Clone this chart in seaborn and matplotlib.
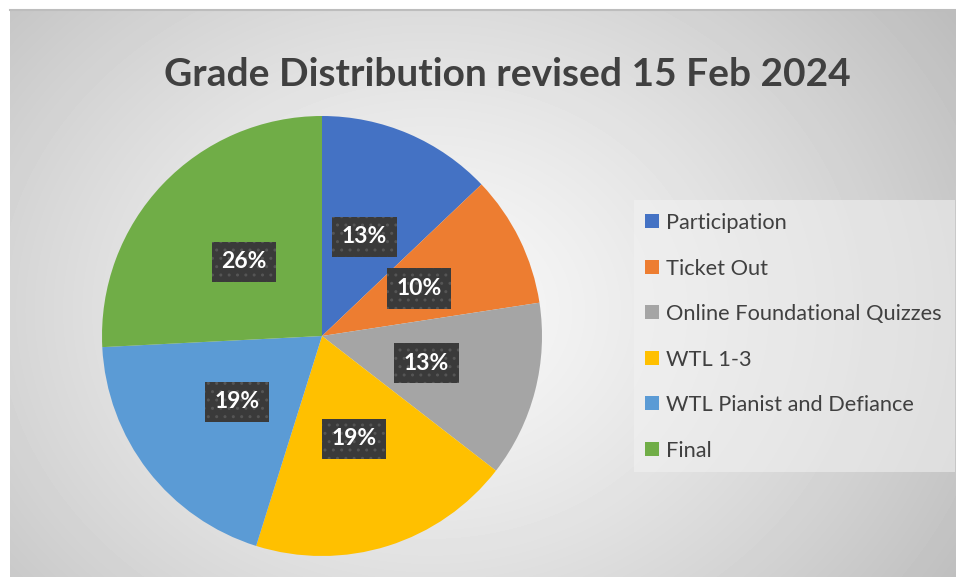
import numpy as np
import matplotlib
matplotlib.use('Agg')
import matplotlib.pyplot as plt
import seaborn as sns
from matplotlib.patches import Rectangle, Patch

# ---- data ----
categories = ['Participation', 'Ticket Out', 'Online Foundational Quizzes',
              'WTL 1-3', 'WTL Pianist and Defiance', 'Final']
weights = [200, 150, 200, 300, 300, 400]
colors = ['#4472C4', '#ED7D31', '#A5A5A5', '#FFC000', '#5B9BD5', '#70AD47']
title = 'Grade Distribution revised 15 Feb 2024'

sns.set_theme(style='white')
plt.rcParams['font.family'] = ['Lato', 'DejaVu Sans']

W, H = 956, 579
fig = plt.figure(figsize=(W / 100, H / 100), dpi=100, facecolor='white')

# ---- radial gradient background ----
bg = fig.add_axes([10 / W, 2 / H, 946 / W, 567 / H], zorder=0)
yy, xx = np.mgrid[0:567, 0:946]
cx, cy = 420, 300
d = np.sqrt(((xx - cx) / 560.0) ** 2 + ((yy - cy) / 460.0) ** 2)
shade = np.clip(0.975 - 0.20 * d ** 1.3, 0.74, 1.0)
bg.imshow(shade, cmap='gray', vmin=0, vmax=1, aspect='auto', interpolation='bilinear')
bg.set_xticks([])
bg.set_yticks([])
for s in ['left', 'right', 'bottom']:
    bg.spines[s].set_visible(False)
bg.spines['top'].set_color('#bdbdbd')
bg.spines['top'].set_linewidth(1.5)

# ---- pie ----
ax = fig.add_axes([102 / W, 23 / H, 440 / W, 440 / H], zorder=2)
wedges, texts, autotexts = ax.pie(
    weights, colors=colors, startangle=90, counterclock=False,
    autopct=lambda p: f'{p:.0f}%', pctdistance=0.49,
    wedgeprops={'linewidth': 0},
    textprops={'color': 'white', 'fontsize': 16.5, 'fontweight': 'bold'})
for t in autotexts:
    t.set_bbox(dict(boxstyle='square,pad=0.42', fc='#3a3a3a', ec='#555555',
                    hatch='..', lw=0))
ax.set_xlim(-1, 1)
ax.set_ylim(-1, 1)
ax.set_aspect('equal')
ax.patch.set_alpha(0)

# ---- title ----
fig.text(507 / W, 1 - 75 / H, title, ha='center', va='center',
         fontsize=28, fontweight='bold', color='#404040')

# ---- legend ----
fig.patches.append(Rectangle((634 / W, 1 - 472 / H), 321 / W, 272 / H,
                             transform=fig.transFigure, facecolor='#f2f2f2',
                             alpha=0.55, edgecolor='none', zorder=1))
handles = [Patch(facecolor=c, edgecolor='none') for c in colors]
fig.legend(handles, categories, loc='upper left',
           bbox_to_anchor=(645 / W, 1 - 213 / H), frameon=False,
           fontsize=15.7, labelcolor='#404040', handlelength=0.62,
           handleheight=0.62, handletextpad=0.35, labelspacing=1.17,
           borderpad=0, borderaxespad=0)

fig.savefig('out.png', dpi=100, facecolor='white')
